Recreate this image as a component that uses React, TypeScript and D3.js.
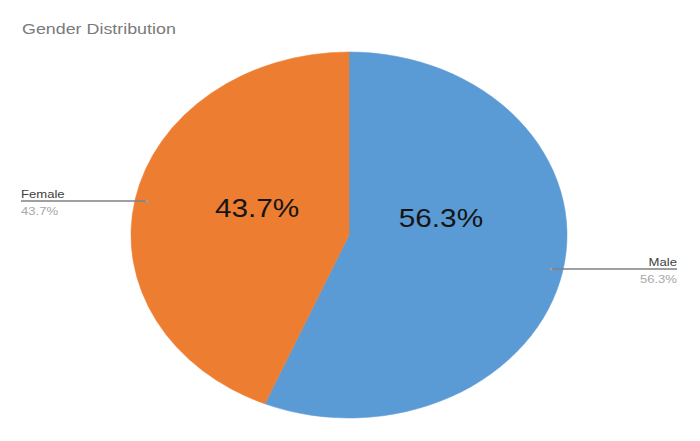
import React, { useRef, useEffect } from 'react';
import * as d3 from 'd3';

const categories = ['Male', 'Female'];
const shares = [56.3, 43.7];
const colors = ['#5B9BD5', '#ED7D31'];
const title = 'Gender Distribution';

const W = 700;
const H = 441;

const App: React.FC = () => {
  const ref = useRef<SVGSVGElement>(null);

  useEffect(() => {
    const svg = d3.select(ref.current);
    svg.selectAll('*').remove();

    const cx = 349;
    const cy = 235;
    const rx = 218;
    const ry = 183;
    const sx = rx / ry; // the picture is stretched sideways

    svg.append('rect').attr('width', W).attr('height', H).attr('fill', '#ffffff');

    const font = 'Liberation Sans, Arial, sans-serif';

    const addText = (x: number, y: number, txt: string, size: number, fill: string, anchor: string) =>
      svg.append('text')
        .attr('transform', `translate(${x},${y}) scale(${sx},1)`)
        .attr('text-anchor', anchor)
        .attr('font-family', font)
        .attr('font-size', size)
        .attr('fill', fill)
        .text(txt);

    addText(22, 34, title, 15, '#7a7a7a', 'start');

    const data = categories.map((c, i) => ({ name: c, value: shares[i], color: colors[i] }));
    const pie = d3.pie<typeof data[0]>().value(d => d.value).sort(null);
    const arcs = pie(data);
    const arc = d3.arc<d3.PieArcDatum<typeof data[0]>>().innerRadius(0).outerRadius(ry);

    const g = svg.append('g').attr('transform', `translate(${cx},${cy}) scale(${sx},1)`);
    g.selectAll('path')
      .data(arcs)
      .enter().append('path')
      .attr('d', arc as any)
      .attr('fill', d => d.data.color)
      .attr('stroke', d => d.data.color)
      .attr('stroke-width', 0.5);

    arcs.forEach(a => {
      const mid = (a.startAngle + a.endAngle) / 2;
      const ux = Math.sin(mid);
      const uy = -Math.cos(mid);
      const right = ux > 0;

      // inner percentage label
      const lx = cx + ux * rx * 0.43;
      const ly = cy + uy * ry * 0.45 * 0.3 - 12;
      addText(lx, ly - 1, `${a.data.value}%`, 25, '#151515', 'middle');

      // leader line to outer label
      const ax = cx + ux * rx * 0.945;
      const ay = cy + uy * ry * 0.945;
      const ex = right ? ax + 126 : ax - 126;
      svg.append('line')
        .attr('x1', ax).attr('y1', ay)
        .attr('x2', ex).attr('y2', ay)
        .attr('stroke', '#808080')
        .attr('stroke-width', 1.5);
      svg.append('circle')
        .attr('cx', ax).attr('cy', ay).attr('r', 1.5)
        .attr('fill', '#a0a0a0');

      const anchor = right ? 'end' : 'start';
      addText(ex, ay - 3, a.data.name, 11, '#404040', anchor);
      addText(ex, ay + 14, `${a.data.value}%`, 11, '#a8a8a8', anchor);
    });
  }, []);

  return (
    <svg
      ref={ref}
      width={W}
      height={H}
      style={{ position: 'absolute', left: 0, top: 0 }}
    />
  );
};

export default App;
